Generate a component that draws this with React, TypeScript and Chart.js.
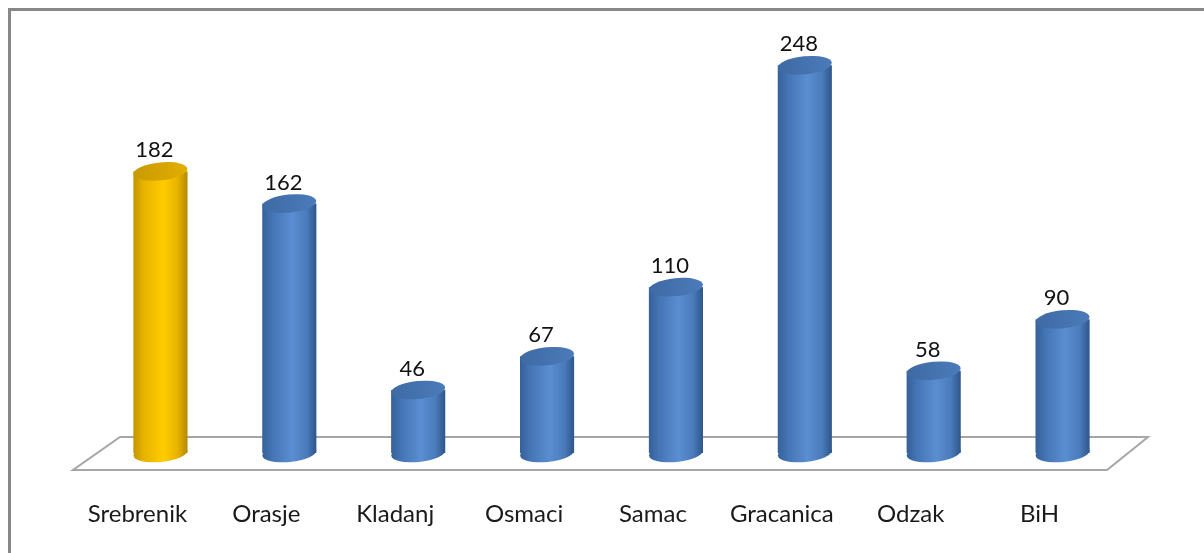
import React, { useEffect, useRef } from "react";
import { Chart, registerables } from "chart.js";

Chart.register(...registerables);

const categories = ["Srebrenik", "Orasje", "Kladanj", "Osmaci", "Samac", "Gracanica", "Odzak", "BiH"];
const values = [182, 162, 46, 67, 110, 248, 58, 90];
const highlighted = ["Srebrenik"];

const BLUE = { body: ["#35609A", "#4474B4", "#5A8ED2", "#4A7BBB", "#2E5689"], top: ["#3E6AA4", "#4B7BBA"] };
const GOLD = { body: ["#C49400", "#E6B200", "#FFCC00", "#E8B300", "#B48800"], top: ["#C99A00", "#E2AE00"] };

const cylinderPlugin = {
  id: "cylinders",
  beforeDatasetsDraw(chart: any) {
    const { ctx, chartArea, scales } = chart;
    const y0 = scales.y.getPixelForValue(0);
    ctx.save();
    ctx.beginPath();
    ctx.moveTo(chartArea.left + 24, y0 - 27);
    ctx.lineTo(chartArea.right + 21, y0 - 27);
    ctx.lineTo(chartArea.right - 20, y0 + 6);
    ctx.lineTo(chartArea.left - 23, y0 + 6);
    ctx.closePath();
    ctx.fillStyle = "#ffffff";
    ctx.fill();
    ctx.strokeStyle = "#A6A6A6";
    ctx.lineWidth = 2;
    ctx.stroke();
    ctx.restore();
  },
  afterDatasetsDraw(chart: any) {
    const { ctx, scales } = chart;
    const y0 = scales.y.getPixelForValue(0);
    const meta = chart.getDatasetMeta(0);
    const rot = -0.1;
    meta.data.forEach((bar: any, i: number) => {
      const { x, y, width } = bar.getProps(["x", "y", "width"], true);
      const rx = width / 2;
      const ry = 9;
      const botY = y0 - 11;
      const pal = highlighted.includes(categories[i]) ? GOLD : BLUE;
      const g = ctx.createLinearGradient(x - rx, 0, x + rx, 0);
      const stops = [0, 0.18, 0.55, 0.82, 1];
      pal.body.forEach((c: string, k: number) => g.addColorStop(stops[k], c));
      ctx.save();
      ctx.fillStyle = g;
      ctx.beginPath();
      ctx.ellipse(x, botY, rx, ry, rot, 0, Math.PI * 2);
      ctx.fill();
      ctx.fillRect(x - rx, y, width, botY - y);
      const gt = ctx.createLinearGradient(x - rx, 0, x + rx, 0);
      gt.addColorStop(0, pal.top[0]);
      gt.addColorStop(1, pal.top[1]);
      ctx.fillStyle = gt;
      ctx.beginPath();
      ctx.ellipse(x, y, rx, ry, rot, 0, Math.PI * 2);
      ctx.fill();
      ctx.fillStyle = "#111111";
      ctx.font = "22px Lato";
      ctx.textAlign = "center";
      ctx.textBaseline = "alphabetic";
      ctx.fillText(String(values[i]), x - 6, y - ry - 5);
      ctx.restore();
    });
  },
};

export default function App() {
  const ref = useRef<HTMLCanvasElement | null>(null);
  useEffect(() => {
    if (!ref.current) return;
    const chart = new Chart(ref.current, {
      type: "bar",
      data: {
        labels: categories,
        datasets: [
          {
            data: values,
            backgroundColor: "rgba(0,0,0,0)",
            borderWidth: 0,
            barPercentage: 0.42,
            categoryPercentage: 1,
          },
        ],
      },
      options: {
        animation: false,
        responsive: true,
        maintainAspectRatio: false,
        layout: { padding: { left: 85, right: 77, top: 35, bottom: 25 } },
        plugins: { legend: { display: false }, tooltip: { enabled: false } },
        scales: {
          x: {
            offset: true,
            grid: { display: false, drawTicks: false },
            border: { display: false },
            afterFit: (axis: any) => {
              axis.height = 64;
            },
            ticks: {
              padding: 36,
              labelOffset: -23,
              color: "#1a1a1a",
              font: { family: "Lato", size: 24 },
              maxRotation: 0,
              autoSkip: false,
            },
          },
          y: { display: false, min: 0, max: 260 },
        },
      },
      plugins: [cylinderPlugin],
    });
    return () => chart.destroy();
  }, []);
  return (
    <div
      style={{
        position: "fixed",
        left: 8,
        top: 8,
        right: 0,
        bottom: 0,
        borderLeft: "3px solid #888888",
        borderTop: "3px solid #888888",
        background: "#ffffff",
      }}
    >
      <div style={{ position: "relative", width: "100%", height: "100%" }}>
        <canvas ref={ref} />
      </div>
    </div>
  );
}
